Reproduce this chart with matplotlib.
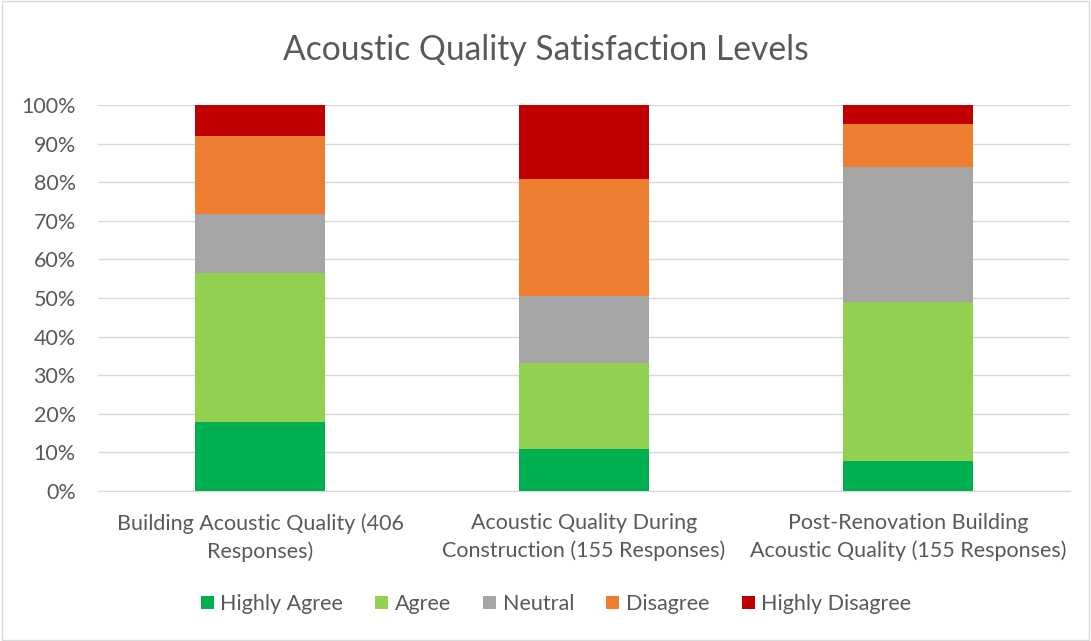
import matplotlib

matplotlib.use("Agg")
import matplotlib.pyplot as plt
from matplotlib.patches import Rectangle
import numpy as np

categories = [
    "Building Acoustic Quality (406\nResponses)",
    "Acoustic Quality During\nConstruction (155 Responses)",
    "Post-Renovation Building\nAcoustic Quality (155 Responses)",
]
levels = ["Highly Agree", "Agree", "Neutral", "Disagree", "Highly Disagree"]
highly_agree = [18.0, 11.0, 7.9]
agree = [38.5, 22.2, 41.1]
neutral = [15.2, 17.2, 34.9]
disagree = [20.2, 30.4, 11.2]
highly_disagree = [8.1, 19.2, 4.9]
colors = ["#00b050", "#92d050", "#a5a5a5", "#ed7d31", "#c00000"]

TEXT = "#595959"
plt.rcParams["font.family"] = ["Lato", "DejaVu Sans"]

fig = plt.figure(figsize=(10.91, 6.41), dpi=100)
ax = fig.add_axes([98 / 1091, 1 - 491 / 641, (1070 - 98) / 1091, (491 - 105) / 641])

x = np.arange(len(categories))
bottom = np.zeros(len(categories))
for name, vals, col in zip(levels, [highly_agree, agree, neutral, disagree, highly_disagree], colors):
    ax.bar(x, vals, width=0.4, bottom=bottom, color=col, label=name, zorder=3)
    bottom += np.array(vals)

ax.set_xlim(-0.5, 2.5)
ax.set_ylim(0, 100)
ax.set_yticks(np.arange(0, 101, 10))
ax.set_yticklabels([f"{v}%" for v in range(0, 101, 10)])
ax.set_xticks(x)
ax.set_xticklabels(categories, linespacing=1.45)
ax.grid(axis="y", color="#d9d9d9", linewidth=1, zorder=0)
for s in ["top", "right", "left"]:
    ax.spines[s].set_visible(False)
ax.spines["bottom"].set_color("#d9d9d9")
ax.tick_params(axis="both", length=0, labelsize=15.5, colors=TEXT)
ax.tick_params(axis="y", pad=16)
ax.tick_params(axis="x", pad=16)

fig.text(0.5, 1 - 50 / 641, "Acoustic Quality Satisfaction Levels", ha="center", va="center",
         fontsize=24.2, color=TEXT)

handles, labels = ax.get_legend_handles_labels()
fig.legend(handles, labels, loc="center", bbox_to_anchor=(556 / 1091, 1 - 604 / 641), ncol=5,
           frameon=False, fontsize=15.5, labelcolor=TEXT, handlelength=0.6, handleheight=0.6,
           handletextpad=0.3, columnspacing=1.5)

fig.patches.append(Rectangle((0.002, 0.002), 0.996, 0.996, transform=fig.transFigure,
                             fill=False, edgecolor="#d9d9d9", linewidth=1))

fig.savefig("out.png", dpi=100)
